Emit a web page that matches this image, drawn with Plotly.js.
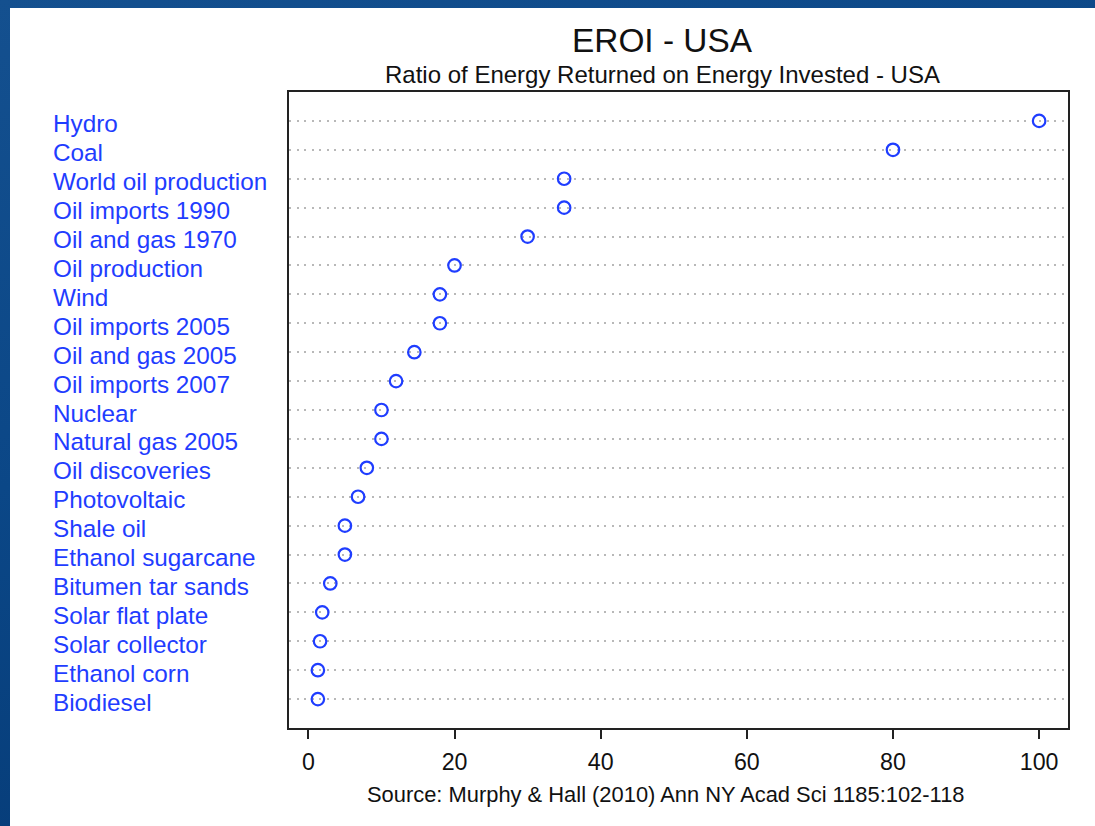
<!DOCTYPE html>
<html>
<head>
<meta charset="utf-8">
<script src="https://cdn.plot.ly/plotly-3.0.1.min.js"></script>
<style>
  html, body { margin: 0; padding: 0; }
  body {
    width: 1095px; height: 826px; overflow: hidden;
    background: linear-gradient(160deg, #14508f 0%, #0b4787 40%, #063c78 75%, #023366 100%);
    position: relative;
  }
  #chart { position: absolute; left: 10px; top: 8px; width: 1085px; height: 818px; background: #fff; }
</style>
</head>
<body>
<div id="chart"></div>
<script>
const categories = [
  "Hydro", "Coal", "World oil production", "Oil imports 1990", "Oil and gas 1970",
  "Oil production", "Wind", "Oil imports 2005", "Oil and gas 2005", "Oil imports 2007",
  "Nuclear", "Natural gas 2005", "Oil discoveries", "Photovoltaic", "Shale oil",
  "Ethanol sugarcane", "Bitumen tar sands", "Solar flat plate", "Solar collector",
  "Ethanol corn", "Biodiesel"
];
const eroi = [100, 80, 35, 35, 30, 20, 18, 18, 14.5, 12, 10, 10, 8, 6.8, 5, 5, 3, 1.9, 1.6, 1.3, 1.3];
const xTicks = [0, 20, 40, 60, 80, 100];

const titleText = "EROI - USA";
const subtitleText = "Ratio of Energy Returned on Energy Invested - USA";
const sourceText = "Source: Murphy & Hall (2010) Ann NY Acad Sci 1185:102-118";

const blue = "#1f3dff";
const font = "Liberation Sans, Arial, Helvetica, sans-serif";

const trace = {
  type: "scatter",
  mode: "markers",
  x: eroi,
  y: categories,
  marker: { symbol: "circle-open", size: 12.5, color: blue, line: { width: 2.2, color: blue } },
  hoverinfo: "x+y"
};

const labelAnns = categories.map(c => ({
  text: c, x: -0.3056, xref: "paper", xanchor: "left",
  y: c, yref: "y", yanchor: "middle", yshift: -3,
  showarrow: false, font: { family: font, size: 24.3, color: blue }
}));

const layout = {
  width: 1085, height: 818,
  margin: { l: 279, r: 27, t: 84, b: 98 },
  paper_bgcolor: "#ffffff", plot_bgcolor: "#ffffff",
  showlegend: false,
  font: { family: font, color: "#111" },
  xaxis: {
    range: [-2.65, 103.95], tickvals: xTicks, ticktext: xTicks.map(String),
    ticks: "outside", ticklen: 9, tickwidth: 1.5, tickcolor: "#222",
    showline: true, mirror: true, linecolor: "#222", linewidth: 2,
    showgrid: false, zeroline: false,
    tickfont: { family: font, size: 23.2, color: "#111" },
    ticklabelstandoff: 3
  },
  yaxis: {
    type: "category", categoryarray: categories.slice().reverse(),
    range: [-1, 21], showticklabels: false, ticks: "",
    showgrid: true, gridcolor: "#b8b8b8", gridwidth: 1.6, griddash: "2px,5.5px",
    showline: true, mirror: true, linecolor: "#222", linewidth: 2, zeroline: false
  },
  annotations: labelAnns.concat([
    { text: titleText, xref: "paper", yref: "paper", x: 0.480, y: 1.0802,
      xanchor: "center", yanchor: "middle", showarrow: false,
      font: { family: font, size: 33.4, color: "#111" } },
    { text: subtitleText, xref: "paper", yref: "paper", x: 0.480, y: 1.0283,
      xanchor: "center", yanchor: "middle", showarrow: false,
      font: { family: font, size: 24, color: "#111" } },
    { text: sourceText, xref: "paper", yref: "paper", x: 0.483, y: -0.1038,
      xanchor: "center", yanchor: "middle", showarrow: false,
      font: { family: font, size: 21.9, color: "#111" } }
  ])
};

Plotly.newPlot("chart", [trace], layout, { displayModeBar: false, responsive: false });
</script>
</body>
</html>
